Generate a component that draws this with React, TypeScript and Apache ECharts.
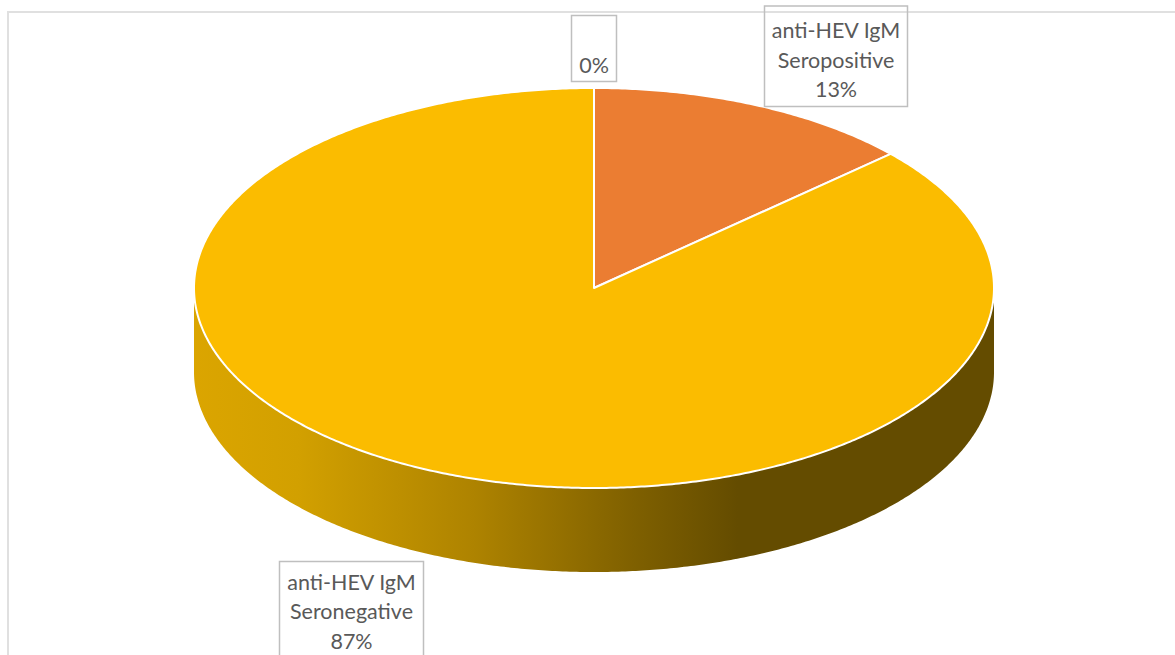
import React, { useEffect, useRef } from "react";
import * as echarts from "echarts";

const categories = ["", "anti-HEV IgM\nSeropositive", "anti-HEV IgM\nSeronegative"];
const seriesValues = [0, 13.3, 86.7];
const percentLabels = ["0%", "13%", "87%"];
const sliceColors = ["#5B9BD5", "#EB7D32", "#FBBC00"];

const CX = 594;
const CY = 288;
const RX = 400;
const RY = 200;
const DEPTH = 84;
const boxes = [
  { x: 571.5, y: 15.5, w: 45, h: 66, textY: 65 },
  { x: 764.5, y: 6, w: 143, h: 100.5, textY: 59.5 },
  { x: 279.5, y: 561.5, w: 144, h: 110, textY: 611 },
];

const pt = (deg: number, dy = 0): number[] => {
  const t = (deg * Math.PI) / 180;
  return [CX + RX * Math.sin(t), CY - RY * Math.cos(t) + dy];
};
const arcPts = (a: number, b: number, dy = 0): number[][] => {
  const n = Math.max(2, Math.ceil(Math.abs(b - a) * 2));
  const out: number[][] = [];
  for (let i = 0; i <= n; i++) out.push(pt(a + ((b - a) * i) / n, dy));
  return out;
};

const renderItem = (params: any, api: any) => {
  const idx = params.dataIndex;
  const total = seriesValues.reduce((s, v) => s + v, 0);
  const before = seriesValues.slice(0, idx).reduce((s, v) => s + v, 0);
  const start = (before / total) * 360;
  const end = start + (api.value(0) / total) * 360;
  const children: any[] = [];

  const wStart = Math.max(start, 90);
  const wEnd = Math.min(end, 270);
  if (wEnd > wStart) {
    children.push({
      type: "polygon",
      z2: 1,
      shape: { points: [...arcPts(wStart, wEnd), ...arcPts(wEnd, wStart, DEPTH)] },
      style: {
        fill: new echarts.graphic.LinearGradient(0, 0, 1, 0, [
          { offset: 0, color: "#DBA500" },
          { offset: 0.13, color: "#D2A000" },
          { offset: 0.35, color: "#AE8300" },
          { offset: 0.55, color: "#7F6000" },
          { offset: 0.68, color: "#644C00" },
          { offset: 1, color: "#644C00" },
        ]),
      },
    });
  }
  children.push({
    type: "polygon",
    z2: 2,
    shape: { points: [[CX, CY], ...arcPts(start, end)] },
    style: { fill: sliceColors[idx], stroke: "#FFFFFF", lineWidth: 2, lineJoin: "round" },
  });
  const b = boxes[idx];
  children.push({
    type: "rect",
    z2: 5,
    shape: { x: b.x, y: b.y, width: b.w, height: b.h },
    style: { fill: "transparent", stroke: "#BFBFBF", lineWidth: 1.5 },
  });
  const text = categories[idx] ? `${categories[idx]}\n${percentLabels[idx]}` : percentLabels[idx];
  children.push({
    type: "text",
    z2: 6,
    x: b.x + b.w / 2,
    y: b.textY,
    style: {
      text,
      fill: "#595959",
      font: '21.5px Lato, "Open Sans", sans-serif',
      lineHeight: 29.5,
      align: "center",
      verticalAlign: "middle",
    },
  });
  return { type: "group", children };
};

export default function App() {
  const ref = useRef<HTMLDivElement | null>(null);
  useEffect(() => {
    document.body.style.margin = "0";
    const chart = echarts.init(ref.current!, undefined, { renderer: "svg" });
    chart.setOption({
      animation: false,
      backgroundColor: "#FFFFFF",
      tooltip: { show: false },
      graphic: [
        {
          type: "rect",
          z: -1,
          shape: { x: 8, y: 12, width: 1400, height: 900 },
          style: { fill: "transparent", stroke: "#E0E0E0", lineWidth: 2 },
        },
      ],
      series: [
        {
          type: "custom",
          coordinateSystem: "none",
          renderItem,
          data: seriesValues.map((v) => [v]),
          clip: false,
        },
      ],
    });
    return () => chart.dispose();
  }, []);
  return (
    <div
      ref={ref}
      style={{ width: 1175, height: 655, overflow: "hidden", fontVariantLigatures: "none" }}
    />
  );
}
